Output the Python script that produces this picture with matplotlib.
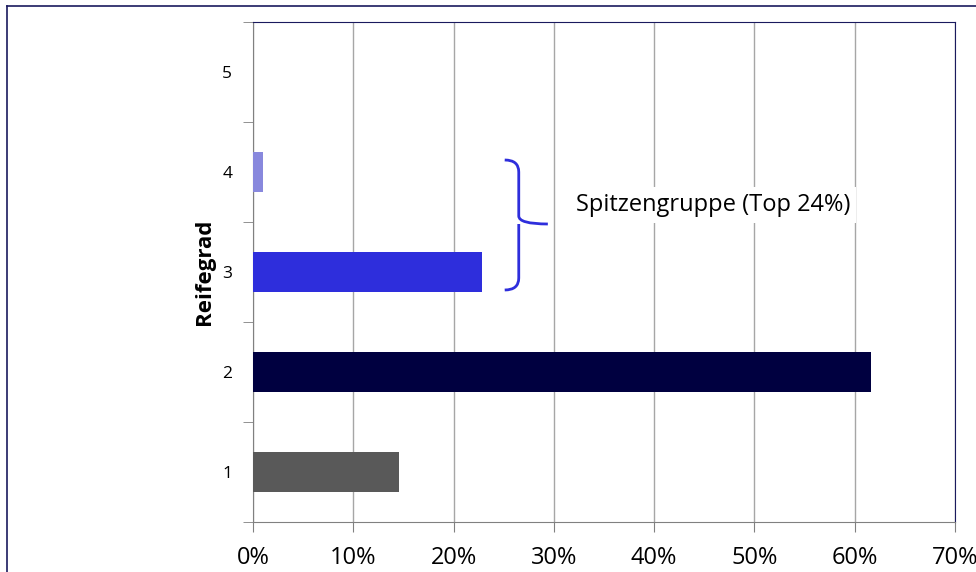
import matplotlib.pyplot as plt
from matplotlib.path import Path
from matplotlib.patches import PathPatch
from matplotlib.lines import Line2D
import matplotlib.ticker as mticker

plt.rcParams['font.family'] = ['Open Sans', 'DejaVu Sans']

levels = [1, 2, 3, 4, 5]
shares = [14.6, 61.6, 22.8, 1.0, 0.0]
colors = ['#595959', '#000040', '#2e2edc', '#8888dd', '#8888dd']
x_ticks = [0, 10, 20, 30, 40, 50, 60, 70]

fig = plt.figure(figsize=(9.76, 5.72), dpi=100)
ax = fig.add_axes([253/976, 1 - 522/572, 702/976, 500/572])

ax.barh(levels, shares, height=0.4, color=colors, zorder=3)

ax.set_xlim(0, 70)
ax.set_ylim(0.5, 5.5)
ax.set_xticks(x_ticks)
ax.xaxis.set_major_formatter(mticker.FuncFormatter(lambda v, p: f"{v:.0f}%"))
ax.tick_params(axis='x', length=7, color='#808080', labelsize=17, pad=10)
ax.grid(axis='x', color='#a6a6a6', linewidth=1, zorder=0)

ax.set_yticks(levels)
ax.set_yticks([l - 0.5 for l in levels] + [5.5], minor=True)
ax.tick_params(axis='y', which='major', length=0, labelsize=12.5, pad=15)
ax.tick_params(axis='y', which='minor', length=7, color='#808080')

ax.spines['left'].set_color('#808080')
ax.spines['bottom'].set_color('#808080')
ax.spines['top'].set_color('#1a1a5e')
ax.spines['right'].set_color('#1a1a5e')

ax.set_ylabel('Reifegrad', fontsize=16, fontweight='bold', labelpad=5)

# curly brace for the top group
x0, xv, xt = 25.1, 26.5, 29.4
y_top, y_bot, y_mid = 4.12, 2.82, 3.48
verts = [(x0, y_top), (xv, y_top), (xv, y_top - 0.12),
         (xv, y_mid + 0.08), (xv, y_mid), (xt, y_mid),
         (xv, y_mid), (xv, y_mid - 0.08),
         (xv, y_bot + 0.12), (xv, y_bot), (x0, y_bot)]
codes = [Path.MOVETO, Path.CURVE3, Path.CURVE3,
         Path.LINETO, Path.CURVE3, Path.LINETO,
         Path.MOVETO, Path.LINETO,
         Path.LINETO, Path.CURVE3, Path.CURVE3]
ax.add_patch(PathPatch(Path(verts, codes), fill=False, edgecolor='#2e2edc', lw=2, zorder=4))

ax.text(32.2, 3.67, 'Spitzengruppe (Top 24%)', fontsize=17, va='center', ha='left',
        bbox=dict(facecolor='white', edgecolor='none', pad=4), zorder=5)

# outer chart frame
fig.add_artist(Line2D([7/976, 1], [1 - 6/572, 1 - 6/572], color='#1a1a5e', lw=1.2))
fig.add_artist(Line2D([7/976, 7/976], [0, 1 - 6/572], color='#1a1a5e', lw=1.2))

fig.savefig('out.png', dpi=100)
